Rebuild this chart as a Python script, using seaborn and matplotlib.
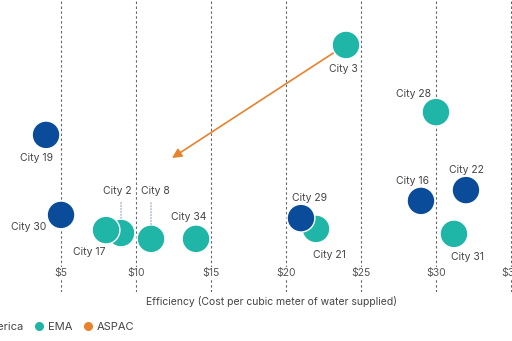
import matplotlib
matplotlib.use("Agg")
import matplotlib.pyplot as plt
import seaborn as sns
import pandas as pd

sns.set_theme(style="white")
plt.rcParams['font.family'] = ['Inter', 'DejaVu Sans']

# ---- data ----
cities = ["City 3", "City 28", "City 31", "City 21", "City 2", "City 17", "City 8", "City 34",
          "City 19", "City 22", "City 16", "City 29", "City 30"]
regions = ["EMA", "EMA", "EMA", "EMA", "EMA", "EMA", "EMA", "EMA",
           "North America", "North America", "North America", "North America", "North America"]
cost = [24.0, 30.0, 31.2, 22.0, 9.0, 8.0, 11.0, 14.0,
        4.0, 32.0, 29.0, 21.0, 5.0]
score = [8.46, 6.16, 1.99, 2.16, 2.02, 2.12, 1.82, 1.82,
         5.38, 3.49, 3.12, 2.53, 2.64]
hue_order = ["North America", "EMA", "ASPAC"]
palette = {"North America": "#0b4c9a", "EMA": "#1fb5a7", "ASPAC": "#e8822c"}
xticks = [5, 10, 15, 20, 25, 30, 35]
xticklabels = ["$5", "$10", "$15", "$20", "$25", "$30", "$35"]

# label offsets (points) and alignment
label_pos = {
    "City 3": (-2, -14, "center", "top"),
    "City 28": (-16.5, 9.5, "center", "bottom"),
    "City 31": (10, -13, "center", "top"),
    "City 21": (10, -15, "center", "top"),
    "City 2": (-3, 26.5, "center", "bottom"),
    "City 17": (-12, -12, "center", "top"),
    "City 8": (3, 31, "center", "bottom"),
    "City 34": (-5, 12, "center", "bottom"),
    "City 19": (-7, -13, "center", "top"),
    "City 22": (0, 11, "center", "bottom"),
    "City 16": (-6, 11, "center", "bottom"),
    "City 29": (6, 11, "center", "bottom"),
    "City 30": (-11, -9, "right", "center"),
}

df = pd.DataFrame({"city": cities, "region": pd.Categorical(regions, categories=hue_order),
                   "cost": cost, "score": score})

fig = plt.figure(figsize=(5.12, 3.41), dpi=100)
ax = fig.add_axes([0, 49/341, 1, 292/341])

for t in xticks:
    ax.axvline(t, color="#666666", lw=0.8, ls=(0, (2.2, 2.2)), zorder=0)

sns.scatterplot(data=df, x="cost", y="score", hue="region", hue_order=hue_order,
                palette=palette, s=400, edgecolor="white", linewidth=1.0, ax=ax, zorder=3)

ax.set_xlim(0.93, 35.07)
ax.set_ylim(0, 10)

for c, x, y in zip(cities, cost, score):
    dx, dy, ha, va = label_pos[c]
    ax.annotate(c, (x, y), xytext=(dx, dy), textcoords="offset points",
                ha=ha, va=va, fontsize=7.5, color="#444444", zorder=5)

# leader lines for City 2 and City 8
for c in ["City 2", "City 8"]:
    i = cities.index(c)
    ax.annotate("", (cost[i], score[i]), xytext=(0, 22 if c == "City 2" else 26),
                textcoords="offset points",
                arrowprops=dict(arrowstyle="-", color="#8fa3b8", lw=0.8, ls=":",
                                shrinkA=0, shrinkB=9.5))

# orange arrow
ax.annotate("", xy=(12.4, 4.59), xytext=(23.26, 8.22),
            arrowprops=dict(arrowstyle="-|>", color="#e8822c", lw=1.2,
                            mutation_scale=14, shrinkA=0, shrinkB=0), zorder=2)

ax.set_xticks(xticks)
ax.set_xticklabels(xticklabels)
ax.tick_params(axis="x", direction="in", length=0, pad=-17, labelsize=7.5, labelcolor="#555555")
for lbl in ax.get_xticklabels():
    lbl.set_bbox(dict(facecolor="white", edgecolor="none", pad=1.0))
ax.set_yticks([])
ax.set_ylabel("")
ax.set_xlabel("Efficiency (Cost per cubic meter of water supplied)", fontsize=7.5, color="#444444")
ax.xaxis.set_label_coords(272/512, -4/292)
for sp in ax.spines.values():
    sp.set_visible(False)

ax.legend_.remove()
handles = [plt.Line2D([], [], marker="o", ls="", color=palette[r], markersize=5.5) for r in hue_order]
fig.legend(handles, hue_order, loc="center left", bbox_to_anchor=(-77/512, 14/341), ncol=3,
           frameon=False, fontsize=8, handletextpad=0.3, columnspacing=0.9,
           handlelength=1.0, labelcolor="#444444")

fig.savefig("out.png", dpi=100)
